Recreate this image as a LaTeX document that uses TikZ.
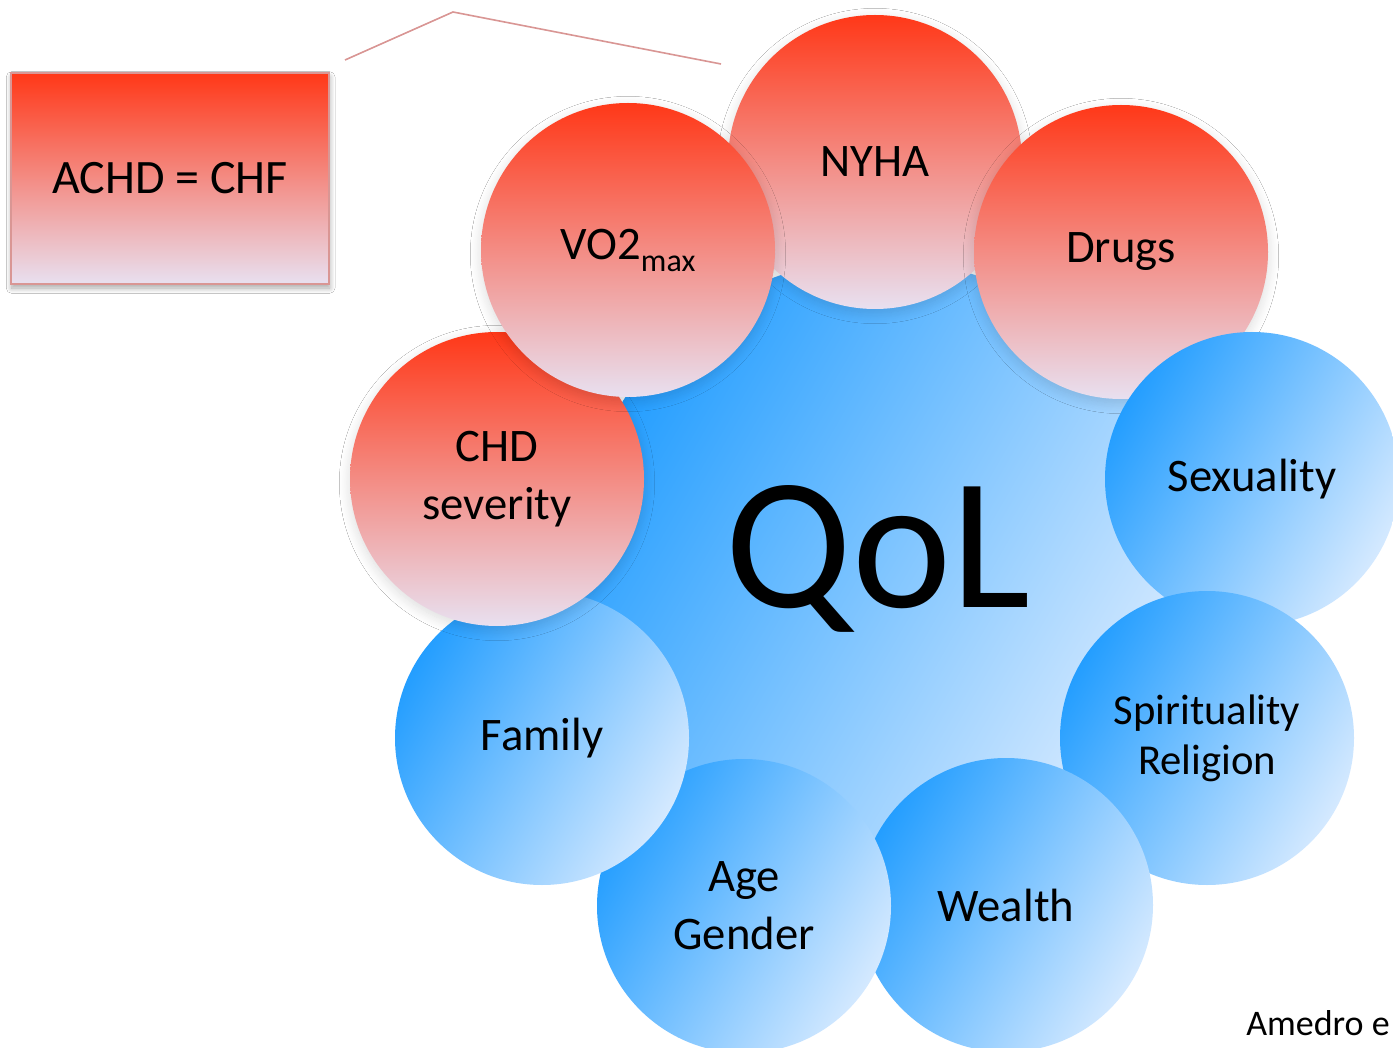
\documentclass[tikz,border=0pt]{standalone}
\usepackage{fontspec}
\setmainfont{Carlito}
\usetikzlibrary{shadows.blur}
\definecolor{hotred}{RGB}{255,56,24}
\definecolor{palelilac}{RGB}{232,224,240}
\definecolor{deepsky}{RGB}{36,158,255}
\definecolor{palesky}{RGB}{212,233,255}
\definecolor{rosewire}{RGB}{217,150,148}
\tikzset{
  ball/.style={circle,minimum size=220.5pt,inner sep=0pt,align=center,
    font=\fontsize{35}{43.5}\selectfont},
  softshadow/.style={blur shadow={shadow xshift=0pt,shadow yshift=-3pt,
    shadow blur radius=8pt,shadow blur steps=16,shadow opacity=14}},
  boxshadow/.style={blur shadow={shadow xshift=0.5pt,shadow yshift=-3pt,
    shadow blur radius=4pt,shadow blur steps=10,shadow opacity=35}},
  redball/.style={ball,top color=hotred,bottom color=palelilac,softshadow},
  blueball/.style={ball,top color=deepsky,bottom color=palesky,shading angle=60},
}
\begin{document}
\begin{tikzpicture}[x=0.75pt,y=-0.75pt]
                \useasboundingbox (0,0) rectangle (1393,1048);
                \fill[white] (0,0) rectangle (1393,1048);
                \clip (0,0) rectangle (1393,1048);
                %% quality of life
                \node[blueball,minimum size=450pt,font=\fontsize{141}{141}\selectfont] (qol) at (878,559) {QoL};
                %% clinical factors and the others, clockwise from the top
                \node[redball] (nyha) at (875,162) {NYHA};
                \node[redball] (drugs) at (1121,252) {Drugs};
                \node[blueball] (sexuality) at (1252,479) {Sexuality};
                \node[blueball,font=\fontsize{32}{37.5}\selectfont] (spirit) at (1207,738) {Spirituality\\Religion};
                \node[blueball] (wealth) at (1006,905) {Wealth};
                \node[blueball] (age) at (744,906) {Age\\Gender};
                \node[blueball] (family) at (542,738) {Family};
                \node[redball] (chd) at (497,479) {CHD\\severity};
                \node[redball] (vo2) at (628,250) {VO2\raisebox{-9pt}{\fontsize{24}{24}\selectfont max}};
                %% heart failure box
                \node[draw=rosewire,line width=1.5pt,top color=hotred,bottom color=palelilac,
                      minimum width=238.5pt,minimum height=158.25pt,boxshadow,
                      font=\fontsize{36}{36}\selectfont] (achd) at (170,178.5) {ACHD = CHF};
                %% wire over the top
                \coordinate (wireA) at (345,60);
                \coordinate (wireB) at (453,12);
                \coordinate (wireC) at (721,64);
                \draw[rosewire,line width=1.2pt] (wireA) -- (wireB) -- (wireC);
                %% reference
                \node[anchor=base west,inner sep=0pt,font=\fontsize{27}{27}\selectfont] (cite) at (1246,1035) {Amedro e};
            \end{tikzpicture}
\end{document}
